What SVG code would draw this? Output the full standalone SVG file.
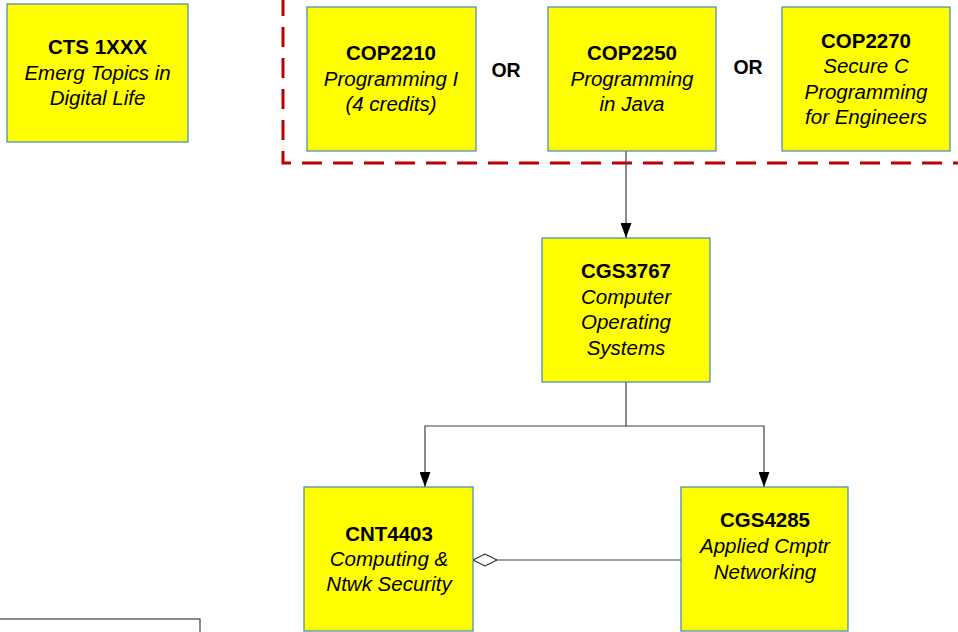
<svg xmlns="http://www.w3.org/2000/svg" width="958" height="632" viewBox="0 0 958 632">
<defs>
<style>
.box{fill:#ffff00;stroke:#3d85c6;stroke-width:1.2}
.t{font-family:"Liberation Sans",Arial,sans-serif;font-size:20.5px;text-anchor:middle;fill:#000}
.b{font-weight:bold}
.i{font-style:italic}
.c{fill:none;stroke:#404040;stroke-width:1.2}
</style>
<marker id="arr" markerWidth="15" markerHeight="11" refX="15" refY="5.5" orient="auto" markerUnits="userSpaceOnUse" viewBox="0 0 15 11">
<path d="M0,0 L15,5.5 L0,11 Z" fill="#000"/>
</marker>
</defs>
<rect width="958" height="632" fill="#fff"/>
<path d="M283,-4 L283,163 L962,163" fill="none" stroke="#c00000" stroke-width="3" stroke-dasharray="20,11"/>
<g id="connectors">
<path class="c" d="M626,151 L626,238" marker-end="url(#arr)"/>
<path class="c" d="M626,382 L626,426 L425,426 L425,487" marker-end="url(#arr)"/>
<path class="c" d="M626,426 L764,426 L764,487" marker-end="url(#arr)"/>
<path class="c" d="M497,560 L681,560"/>
<path d="M473,560 L485,554 L497,560 L485,566 Z" fill="#fff" stroke="#000" stroke-width="1"/>
</g>
<g id="cts1xxx">
<rect class="box" x="7" y="4" width="181" height="138"/>
<text class="t" x="97.5"><tspan class="b" x="97.5" y="54">CTS 1XXX</tspan><tspan class="i" x="97.5" y="80">Emerg Topics in</tspan><tspan class="i" x="97.5" y="105">Digital Life</tspan></text>
</g>
<g id="cop2210">
<rect class="box" x="307" y="7" width="169" height="144"/>
<text class="t" x="391"><tspan class="b" x="391" y="60">COP2210</tspan><tspan class="i" x="391" y="86">Programming I</tspan><tspan class="i" x="391" y="111">(4 credits)</tspan></text>
</g>
<text class="t b" x="506" y="77" style="font-size:19.5px">OR</text>
<g id="cop2250">
<rect class="box" x="548" y="7" width="168" height="144"/>
<text class="t" x="632"><tspan class="b" x="632" y="60">COP2250</tspan><tspan class="i" x="632" y="86">Programming</tspan><tspan class="i" x="632" y="111">in Java</tspan></text>
</g>
<text class="t b" x="748" y="74" style="font-size:19.5px">OR</text>
<g id="cop2270">
<rect class="box" x="782" y="7" width="168" height="144"/>
<text class="t" x="866"><tspan class="b" x="866" y="48">COP2270</tspan><tspan class="i" x="866" y="73">Secure C</tspan><tspan class="i" x="866" y="99">Programming</tspan><tspan class="i" x="866" y="124">for Engineers</tspan></text>
</g>
<g id="cgs3767">
<rect class="box" x="542" y="238" width="168" height="144"/>
<text class="t" x="626"><tspan class="b" x="626" y="278">CGS3767</tspan><tspan class="i" x="626" y="304">Computer</tspan><tspan class="i" x="626" y="329">Operating</tspan><tspan class="i" x="626" y="355">Systems</tspan></text>
</g>
<g id="cnt4403">
<rect class="box" x="304" y="487" width="169" height="144"/>
<text class="t" x="389"><tspan class="b" x="389" y="541">CNT4403</tspan><tspan class="i" x="389" y="566">Computing &amp;</tspan><tspan class="i" x="389" y="591">Ntwk Security</tspan></text>
</g>
<g id="cgs4285">
<rect class="box" x="681" y="487" width="167" height="144"/>
<text class="t" x="765"><tspan class="b" x="765" y="527">CGS4285</tspan><tspan class="i" x="765" y="553">Applied Cmptr</tspan><tspan class="i" x="765" y="579">Networking</tspan></text>
</g>
<g id="bottom-left-box">
<rect x="-2" y="619" width="202" height="20" fill="#fff" stroke="#404040" stroke-width="1.2"/>
</g>
</svg>
